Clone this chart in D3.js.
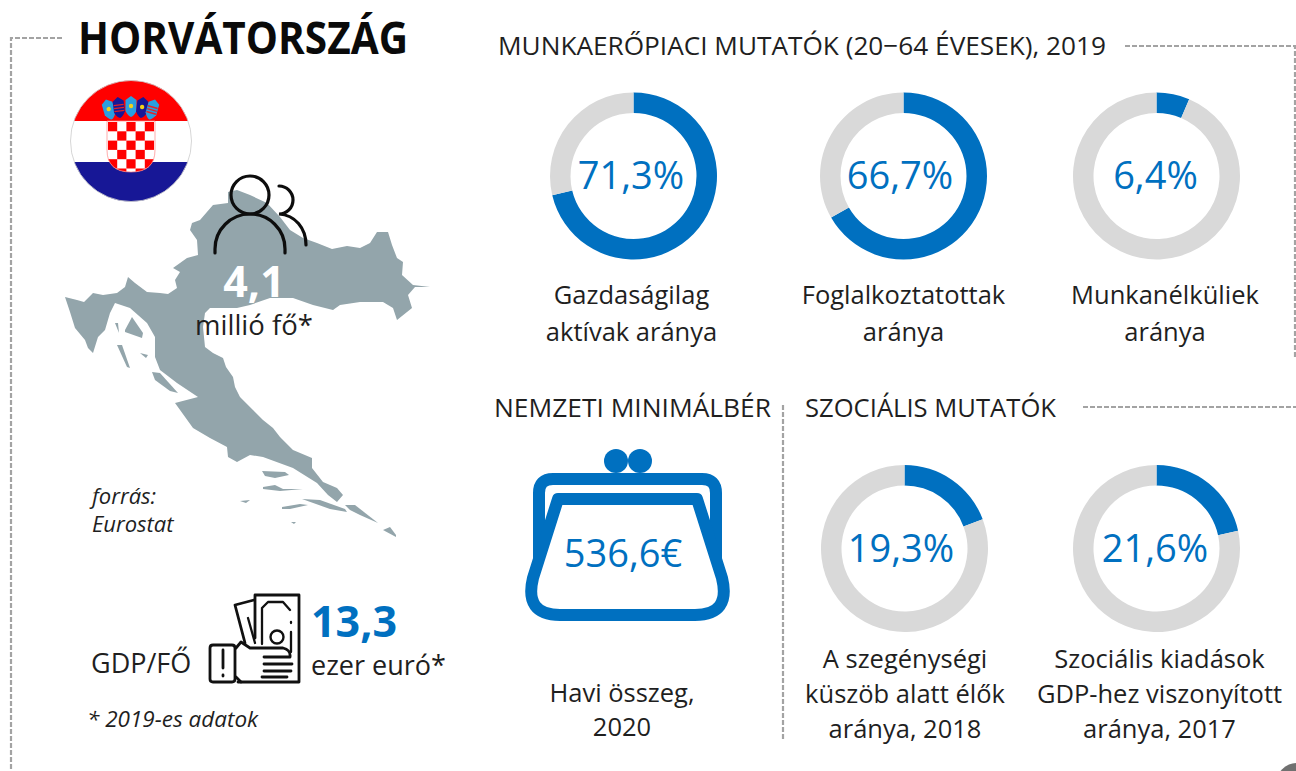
<!DOCTYPE html>
<html><head><meta charset="utf-8">
<script src="https://cdnjs.cloudflare.com/ajax/libs/d3/7.8.5/d3.min.js"></script>
<style>html,body{margin:0;padding:0;background:#fff;overflow:hidden}svg{display:block}text{font-family:"Open Sans",sans-serif;fill:#1f1f1f}</style>
</head><body><svg id="c" width="1296" height="771"></svg>
<script>
const ringValues=[71.3,66.7,6.4,19.3,21.6];
const ringTexts=["71,3%","66,7%","6,4%","19,3%","21,6%"];
const ringCaptions=[["Gazdaságilag","aktívak aránya"],["Foglalkoztatottak","aránya"],["Munkanélküliek","aránya"],["A szegénységi","küszöb alatt élők","aránya, 2018"],["Szociális kiadások","GDP-hez viszonyított","aránya, 2017"]];
const ringCentersX=[633.5,903.5,1156.5,904.5,1156.5];
const ringCentersY=[176,176,176,548.5,548.5];
const ringTextX=[631,900,1155.5,901,1155];
const captionX=[631.5,903.5,1165,905,1159.5];
const sectionTitles=["MUNKAERŐPIACI MUTATÓK (20−64 ÉVESEK), 2019","NEMZETI MINIMÁLBÉR","SZOCIÁLIS MUTATÓK"];
const BLUE="#0070c0",GREY="#d9d9d9",MAP="#93a5ab",DASH="#a3a3a3";
const svg=d3.select("#c");
const T=(x,y,s,size,o={})=>{const t=svg.append("text").attr("x",x).attr("y",y).attr("text-anchor",o.a||"middle").attr("font-size",size)
  .attr("font-weight",o.w||400).attr("font-style",o.i?"italic":null).style("fill",o.f||null).text(s);
  if(o.len) t.attr("textLength",o.len).attr("lengthAdjust","spacingAndGlyphs"); return t;};

// dashed frames
const dashLine=d3.line();
[[[62,38],[11,38],[11,771]],[[1125,46],[1295,46],[1295,358]],[[1083,407],[1296,407]],[[783,405],[783,740]]].forEach(p=>
  svg.append("path").attr("d",dashLine(p)).attr("fill","none").attr("stroke",DASH).attr("stroke-width",2.2).attr("stroke-dasharray","5 2"));

// map
const mapOutline=[[228,192],[237,190],[250,195],[267,203],[280,217],[290,230],[303,238],[317,243],[332,249],[347,246],[360,248],[370,243],[377,232],[388,232],[392,245],[397,258],[403,262],[402,275],[413,285],[430,287],[415,287],[408,295],[412,308],[397,320],[393,308],[383,302],[360,302],[340,305],[333,310],[313,305],[293,298],[270,298],[250,305],[237,308],[210,308],[205,313],[203,327],[205,347],[213,353],[223,358],[226,367],[233,377],[235,387],[240,397],[253,410],[263,420],[273,428],[280,437],[293,450],[312,458],[312,468],[323,482],[337,488],[343,495],[337,502],[328,495],[317,483],[293,468],[263,457],[250,455],[237,462],[228,457],[227,447],[210,438],[193,428],[175,403],[198,397],[177,383],[160,370],[155,357],[155,337],[147,323],[130,308],[115,303],[110,313],[105,330],[98,337],[93,353],[88,348],[85,340],[75,328],[70,312],[65,297],[77,300],[84,302],[93,293],[103,295],[117,293],[125,287],[128,277],[135,283],[147,292],[160,293],[168,294],[177,288],[175,280],[180,272],[173,268],[187,258],[198,255],[197,240],[190,230],[192,223],[200,220],[213,205],[228,203]];
const mapIslands=[[[125,330],[132,317],[143,333],[142,338],[125,332]],[[117,345],[122,345],[130,368],[127,367]],[[115,323],[118,323],[119,333]],[[152,372],[160,373],[178,393],[170,391],[155,380]],[[140,353],[148,355],[146,358]],[[262,471],[285,472],[289,475],[275,478],[265,476]],[[263,487],[275,485],[283,489],[303,489],[280,491],[263,489]],[[240,501],[250,500],[246,503]],[[282,507],[300,504],[308,505],[290,509],[282,509]],[[302,499],[320,500],[345,509],[347,512],[330,509]],[[345,505],[355,505],[378,523],[360,515],[350,510]],[[383,530],[390,527],[396,535],[396,537]],[[291,522],[296,522],[294,524]]];
const closed=d3.line().curve(d3.curveLinearClosed);
svg.append("path").attr("d",closed(mapOutline)).attr("fill",MAP);
mapIslands.forEach(p=>svg.append("path").attr("d",closed(p)).attr("fill",MAP));

// flag
const defs=svg.append("defs");
defs.append("clipPath").attr("id","fc").append("circle").attr("cx",131).attr("cy",141).attr("r",60.5);
const flag=svg.append("g").attr("clip-path","url(#fc)");
flag.append("rect").attr("x",70).attr("y",80).attr("width",122).attr("height",41).attr("fill","#ff0000");
flag.append("rect").attr("x",70).attr("y",121).attr("width",122).attr("height",41).attr("fill","#fff");
flag.append("rect").attr("x",70).attr("y",162).attr("width",122).attr("height",41).attr("fill","#171796");
svg.append("circle").attr("cx",131).attr("cy",141).attr("r",60.5).attr("fill","none").attr("stroke","#ccc").attr("stroke-width",.8);
const shieldD="M107,121H155V150Q155,172 131,172Q107,172 107,150Z";
defs.append("clipPath").attr("id","sc").append("path").attr("d",shieldD);
const sh=svg.append("g").attr("clip-path","url(#sc)");
sh.append("rect").attr("x",107).attr("y",121).attr("width",48).attr("height",52).attr("fill","#fff");
d3.range(6).forEach(r=>d3.range(5).forEach(c=>{ if((r+c)%2==0) sh.append("rect").attr("x",108+c*9.2).attr("y",122+r*9.3).attr("width",9.2).attr("height",9.3).attr("fill","#f00");}));
svg.append("path").attr("d",shieldD).attr("fill","none").attr("stroke","#f88").attr("stroke-width",.7);
[[109,110,"#2a9fe0",-16],[119,108,"#171796",-7],[131,107,"#2a9fe0",0],[142,108,"#171796",7],[152,110,"#2a9fe0",16]].forEach(([x,y,col,rot],i)=>{
  const g=svg.append("g").attr("transform",`translate(${x},${y}) rotate(${rot})`);
  g.append("path").attr("d","M-5.5,-7L0,-11L5.5,-7V4Q3,9 0,10Q-3,9 -5.5,4Z").attr("fill",col);
  if(i==1||i==4) [-3,0,3].forEach(dy=>g.append("rect").attr("x",-5).attr("y",dy-.7).attr("width",10).attr("height",1.4).attr("fill","#e0242a"));
  else g.append("circle").attr("cx",0).attr("cy",-1).attr("r",2.2).attr("fill","#f2d21b");
});

// person icon
const ink={fill:"none",stroke:"#0d0d0d","stroke-width":3.2,"stroke-linecap":"round"};
const icon=(d,o=ink)=>{const p=svg.append("path").attr("d",d);Object.entries(o).forEach(([k,v])=>p.attr(k,v));return p;};
svg.append("circle").attr("cx",250).attr("cy",195).attr("r",19).attr("fill","none").attr("stroke","#0d0d0d").attr("stroke-width",3.2);
icon("M215,253 V249 A35,35 0 0 1 285,249 V253");
icon("M279,186 A14,14 0 0 1 279,214 C295,215 306,228 306,245");

T(254,297,"4,1",43,{w:700,f:"#fff"});
T(254,335,"millió fő*",27.5);
T(92,504,"forrás:",22,{a:"start",i:1});
T(92,532,"Eurostat",22,{a:"start",i:1});

// title + headers
T(78,54,"HORVÁTORSZÁG",44,{a:"start",w:700,f:"#0a0a0a",len:330});
T(498,55,sectionTitles[0],26,{a:"start",len:608});
T(494,417,sectionTitles[1],26,{a:"start",len:277});
T(805,417,sectionTitles[2],26,{a:"start",len:251});

// rings
const pie=d3.pie().sort(null);
const arc=d3.arc().innerRadius(63).outerRadius(83.5);
ringValues.forEach((v,i)=>{
  const g=svg.append("g").attr("transform",`translate(${ringCentersX[i]},${ringCentersY[i]})`);
  g.selectAll("path").data(pie([v,100-v])).join("path").attr("d",arc).attr("fill",(d,j)=>j==0?BLUE:GREY);
  T(ringTextX[i],ringCentersY[i]+13,ringTexts[i],38,{f:BLUE});
  const base=i<3?304:668, gap=i<3?37:35;
  ringCaptions[i].forEach((s,k)=>T(captionX[i],base+k*gap,s,25.5));
});

// purse
const pb={fill:"none",stroke:BLUE,"stroke-width":12,"stroke-linejoin":"round"};
svg.append("circle").attr("cx",616).attr("cy",461).attr("r",12).attr("fill",BLUE);
svg.append("circle").attr("cx",640).attr("cy",461).attr("r",12).attr("fill",BLUE);
icon("M539,570 V493 Q539,479 553,479 H702 Q716,479 716,493 V570",pb);
icon("M558,499 H697 L722,578 Q731,615 695,615 H560 Q524,615 533,578 Z",{...pb,fill:"#fff"});
T(623,567,"536,6€",38,{f:BLUE});
T(622,702,"Havi összeg,",25.5);
T(622,736,"2020",25.5);

// money icon
const m={fill:"none",stroke:"#111","stroke-width":2.8,"stroke-linejoin":"round","stroke-linecap":"round"};
icon("M210,648 Q210,645 213,645 H232 Q235,645 235,648 V679 Q235,682 232,682 H213 Q210,682 210,679 Z",m);
icon("M223,650 V668 M223,675 V676",m);
icon("M255,638 V595 H299 V682 H238",m);
icon("M254,600 L235,605 L245,643",m);
icon("M248,618 L255,643 M262,644 V608 L268,602 H283 L290,610 M291,622 V623 M291,632 V652",{...m,"stroke-width":2.3});
svg.append("circle").attr("cx",277).attr("cy",637).attr("r",6.5).attr("fill","none").attr("stroke","#111").attr("stroke-width",2.4);
icon("M236,648 L241,642 L250,648 H283 Q291,650 290,657 H264 M264,664 H292 M264,671 H291 M262,677 H287 M236,677 L241,682",m);

T(91,673,"GDP/FŐ",27,{a:"start"});
T(311,637,"13,3",43,{a:"start",w:700,f:BLUE});
T(311,675,"ezer euró*",27,{a:"start"});
T(87,727,"* 2019-es adatok",22.5,{a:"start",i:1});

// corner blob
svg.append("circle").attr("cx",1297).attr("cy",784).attr("r",21).attr("fill","#707070");
</script></body></html>
